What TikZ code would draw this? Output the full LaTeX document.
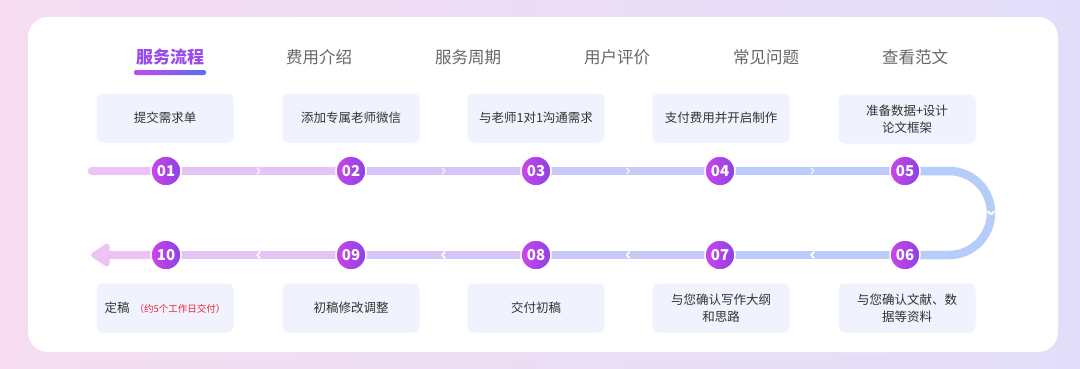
\documentclass[tikz,border=0pt]{standalone}
\usepackage{fontspec}
\setmainfont{Noto Sans CJK SC}
\usetikzlibrary{arrows.meta,calc}
\definecolor{bgpink}{HTML}{F6DDF2}
\definecolor{bglav}{HTML}{E2DEF9}
\definecolor{boxfill}{HTML}{F0F2FD}
\definecolor{tabgray}{HTML}{666666}
\definecolor{tabsel}{HTML}{9A4AEA}
\definecolor{txtgray}{HTML}{333333}
\definecolor{noteRed}{HTML}{E8262E}
\definecolor{trackA}{HTML}{EFC2F7}
\definecolor{trackB}{HTML}{B6CCF9}
\definecolor{dotA}{HTML}{CB45E9}
\definecolor{dotB}{HTML}{8C42E4}
\definecolor{tabA}{HTML}{C24BEA}
\definecolor{tabB}{HTML}{5B6EF1}
\pgfdeclarelayer{bg}
\pgfdeclarelayer{mid}
\pgfsetlayers{bg,mid,main}
\newcommand{\chevR}[1]{\draw[chev] (#1) +(-1.5,-3) -- +(1.5,0) -- +(-1.5,3);}
\newcommand{\chevL}[1]{\draw[chev] (#1) +(1.5,-3) -- +(-1.5,0) -- +(1.5,3);}

\begin{document}
\begin{tikzpicture}[x=1pt, y=-1pt,
  stepbox/.style={rectangle, rounded corners=6pt, fill=boxfill, minimum width=137pt, minimum height=49pt, inner sep=2pt, align=center, text=txtgray, font=\fontsize{12.5}{16.5}\selectfont},
  numdot/.style={circle, draw=white, line width=1.5pt, left color=dotA, right color=dotB, minimum size=30pt, inner sep=0pt, text=white, font=\bfseries\fontsize{15}{15}\selectfont},
  tab/.style={text=tabgray, font=\fontsize{16.5}{20}\selectfont},
  track/.style={line width=8.5pt},
  chev/.style={white, opacity=0.8, line width=1.3pt, line cap=round, line join=round}]
\useasboundingbox (0,0) rectangle (1080,368);
\begin{pgfonlayer}{bg}
\shade[left color=bgpink, right color=bglav] (0,0) rectangle (1080,368);
\fill[white, rounded corners=20pt] (28,17) rectangle (1058,352);
\end{pgfonlayer}

% tabs
\node[tab, text=tabsel, font=\bfseries\fontsize{17}{20}\selectfont] (tab1) at (170,57) {服务流程};
\foreach \t [count=\i from 2] in {费用介绍,服务周期,用户评价,常见问题,查看范文}
  \node[tab] (tab\i) at ({170+149*(\i-1)},57) {\t};
\shade[left color=tabA, right color=tabB, rounded corners=2pt] (134,70) rectangle (206,75);

% numbered dots
\foreach \x [count=\i] in {166,351,536,720,905} {
  \pgfmathtruncatemacro\j{11-\i}
  \node[numdot] (c\i) at (\x,171) {0\i};
  \node[numdot] (c\j) at (\x,255) {\ifnum\j<10 0\fi\j};
}

% steps above
\node[stepbox] (s1) at (165,118) {提交需求单};
\node[stepbox] (s2) at (351,118) {添加专属老师微信};
\node[stepbox] (s3) at (536,118) {与老师1对1沟通需求};
\node[stepbox] (s4) at (721,118) {支付费用并开启制作};
\node[stepbox] (s5) at (907,119) {准备数据+设计\\论文框架};
% steps below
\node[stepbox] (s6) at (907,308) {与您确认文献、数\\据等资料};
\node[stepbox] (s7) at (721,308) {与您确认写作大纲\\和思路};
\node[stepbox] (s8) at (536,308) {交付初稿};
\node[stepbox] (s9) at (351,308) {初稿修改调整};
\node[stepbox] (s10) at (165,308) {定稿\hspace{5pt}{\color{noteRed}\fontsize{9.5}{12}\selectfont（约5个工作日交付）}};

% track
\begin{pgfonlayer}{mid}
\coordinate (t0) at (92,171);
\coordinate (t1) at (949,171);
\coordinate (tip) at (91,255);
\draw[track, line cap=round, trackB!3!trackA] (t0) -- (c1.center);
\foreach \a/\b/\p in {1/2/20,2/3/43,3/4/66,4/5/89}
  \draw[track, trackB!\p!trackA] (c\a.center) -- (c\b.center);
\draw[track, trackB] (c5.center) -- (t1) arc[start angle=90, end angle=-90, radius=42pt] -- (c6.center);
\foreach \a/\b/\p in {6/7/89,7/8/66,8/9/43,9/10/20}
  \draw[track, trackB!\p!trackA] (c\a.center) -- (c\b.center);
\draw[track, trackA, -{Triangle[width=26pt,length=21pt,round]}] (c10.center) -- (tip);
\foreach \a/\b in {1/2,2/3,3/4,4/5} \chevR{$(c\a)!.5!(c\b)$}
\foreach \a/\b in {6/7,7/8,8/9,9/10} \chevL{$(c\a)!.5!(c\b)$}
\draw[chev] (991,213) +(-3,-1.5) -- +(0,1.5) -- +(3,-1.5);
\end{pgfonlayer}
\end{tikzpicture}
\end{document}
